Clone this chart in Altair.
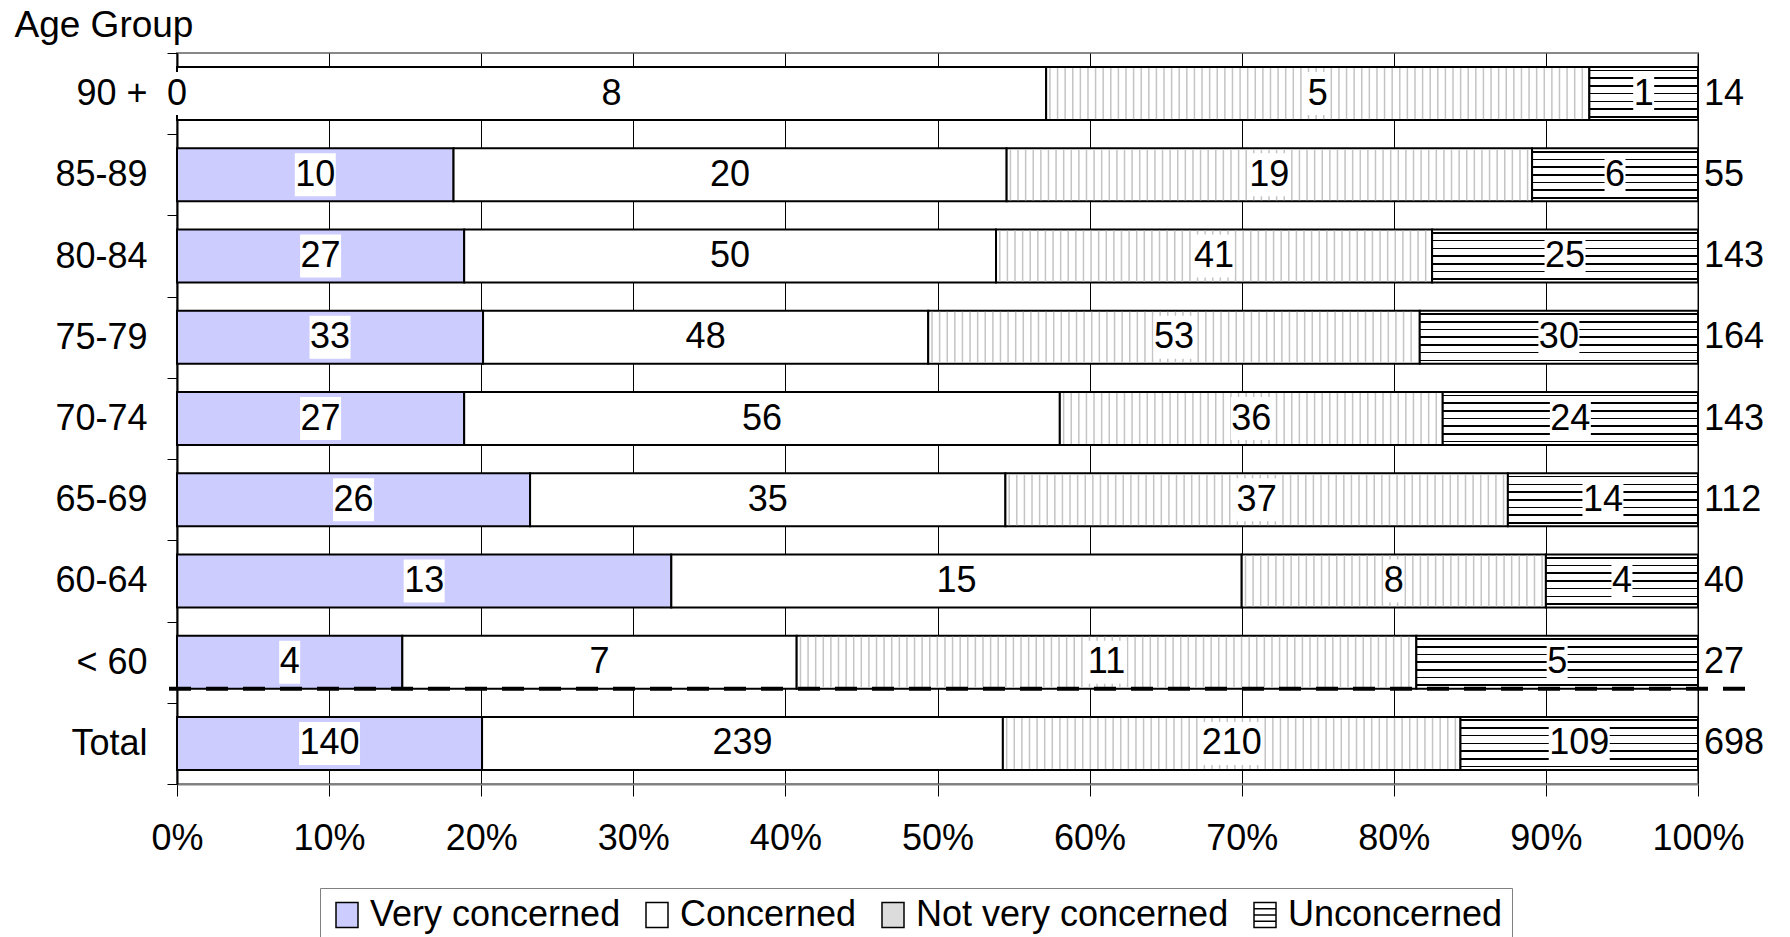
import altair as alt
import pandas as pd

# Survey counts by age group (rows top to bottom) and level of concern
groups = ["90 +", "85-89", "80-84", "75-79", "70-74", "65-69", "60-64", "< 60", "Total"]
series = ["Very concerned", "Concerned", "Not very concerned", "Unconcerned"]
very_concerned = [0, 10, 27, 33, 27, 26, 13, 4, 140]
concerned = [8, 20, 50, 48, 56, 35, 15, 7, 239]
not_very_concerned = [5, 19, 41, 53, 36, 37, 8, 11, 210]
unconcerned = [1, 6, 25, 30, 24, 14, 4, 5, 109]

columns = [very_concerned, concerned, not_very_concerned, unconcerned]
rows = []
for gi, g in enumerate(groups):
    for si, s in enumerate(series):
        rows.append({"group": g, "series": s, "order": si, "count": columns[si][gi]})
df = pd.DataFrame(rows)

FONT = "Liberation Sans"
FS = 36
W, H = 1521, 731
BAR_H = 53

# horizontal hatching for the "Unconcerned" segments
stops = [{"offset": 0, "color": "white"}]
for i in range(7):
    c = (3.4 + 7.7 * i) / BAR_H
    h = 0.8 / BAR_H
    stops += [
        {"offset": c - h, "color": "white"},
        {"offset": c - h, "color": "black"},
        {"offset": c + h, "color": "black"},
        {"offset": c + h, "color": "white"},
    ]
stops.append({"offset": 1, "color": "white"})
hatch = {"gradient": "linear", "x1": 0, "y1": 0, "x2": 0, "y2": 1, "stops": stops}

bar_fill = {
    "condition": [
        {"test": "datum.series === 'Very concerned'", "value": "#ccccff"},
        {"test": "datum.series === 'Unconcerned'", "value": hatch},
    ],
    "value": "white",
}

base = (
    alt.Chart(df)
    .transform_joinaggregate(total="sum(count)", groupby=["group"])
    .transform_window(cum="sum(count)", groupby=["group"],
                      sort=[alt.SortField("order")], frame=[None, 0])
    .transform_calculate(x1="(datum.cum - datum.count) / datum.total",
                         x2="datum.cum / datum.total")
    .transform_calculate(mid="(datum.x1 + datum.x2) / 2",
                         nd="length(toString(datum.count))")
)

xscale = alt.Scale(domain=[0, 1], nice=False, zero=False)
yscale = alt.Scale(paddingInner=0, paddingOuter=0)

x_axis = alt.Axis(
    title=None, format=".0%", values=[i / 10 for i in range(11)],
    labelFont=FONT, labelFontSize=FS, labelColor="black", labelPadding=25,
    labelFlush=False, labelOverlap=False,
    grid=True, gridColor="black", gridWidth=1,
    tickSize=12, tickColor="black", tickWidth=1,
    domainColor="#808080", domainWidth=2,
)
y_axis = alt.Axis(
    title="Age Group", titleAngle=0, titleAlign="left", titleBaseline="alphabetic",
    titleX=-163, titleY=-17, titleFont=FONT, titleFontSize=37,
    titleFontWeight="normal", titleColor="black",
    labelFont=FONT, labelFontSize=FS, labelColor="black", labelPadding=20,
    tickBand="extent", tickSize=10, tickColor="black", tickWidth=1,
    domainColor="black", domainWidth=2, grid=False,
)


def X(field):
    return alt.X(field, scale=xscale, axis=x_axis)


Y = alt.Y("group:N", sort=groups, scale=yscale, axis=y_axis)

bars = base.mark_bar(size=BAR_H, stroke="black", strokeWidth=2).encode(
    x=X("x1:Q"), x2="x2:Q", y=Y, fill=bar_fill,
)

# vertical hatching for the "Not very concerned" segments
stripes = (
    base.transform_filter("datum.series === 'Not very concerned'")
    .transform_calculate(stripe="sequence(datum.x1 + 0.0025, datum.x2 - 0.001, 0.005)")
    .transform_flatten(["stripe"])
    .mark_tick(orient="vertical", size=BAR_H - 2, thickness=1.5,
               color="#c4c4c4", opacity=1)
    .encode(x=X("stripe:Q"), y=Y)
)

# white boxes behind the segment labels, sized by the number of digits
box_paths = {
    1: "M-0.344,-0.705H0.344V0.705H-0.344Z",
    2: "M-0.672,-0.705H0.672V0.705H-0.672Z",
    3: "M-1,-0.705H1V0.705H-1Z",
}
label_boxes = [
    base.transform_filter(f"datum.nd === {n}")
    .mark_point(filled=True, fill="white", opacity=1, strokeWidth=0,
                size=3721, shape=path)
    .encode(x=X("mid:Q"), y=Y)
    for n, path in box_paths.items()
]

labels = base.mark_text(font=FONT, fontSize=FS, baseline="middle", color="black").encode(
    x=X("mid:Q"), y=Y, text="count:Q"
)

totals = (
    base.transform_filter("datum.series === 'Unconcerned'")
    .mark_text(font=FONT, fontSize=FS, baseline="middle", align="left", dx=6, color="black")
    .encode(x=X("x2:Q"), y=Y, text="total:Q")
)

divider = (
    base.transform_filter("datum.group === '< 60' && datum.series === 'Very concerned'")
    .mark_rule(color="black", strokeWidth=4, strokeDash=[22, 15], yOffset=BAR_H / 2)
    .encode(y=Y, x=alt.value(-8), x2=alt.value(1574))
)

legend = alt.Legend(
    title=None, orient="none", legendX=143, legendY=835, direction="horizontal",
    labelFont=FONT, labelFontSize=FS, labelColor="black", labelLimit=0,
    labelOffset=5, columnPadding=18, padding=9,
    symbolSize=625, symbolStrokeWidth=1.5, symbolOpacity=1,
    strokeColor="#808080",
)
legend_paths = [
    "M-0.88,-1H0.88V1H-0.88Z",
    "M-0.88,-1H0.88V1H-0.88Z",
    "M-0.88,-1H0.88V1H-0.88Z",
    "M-0.88,-1H0.88V1H-0.88Z M-0.88,-0.5H0.88 M-0.88,0H0.88 M-0.88,0.5H0.88",
]
legend_layer = (
    base.transform_filter("datum.group === 'Total'")
    .mark_point(filled=True, opacity=0, strokeWidth=1.5)
    .encode(
        x=X("mid:Q"),
        y=Y,
        fill=alt.Fill("series:N", scale=alt.Scale(domain=series,
                      range=["#ccccff", "#ffffff", "#dcdcdc", "#ffffff"]), legend=legend),
        shape=alt.Shape("series:N", scale=alt.Scale(domain=series, range=legend_paths),
                        legend=legend),
        stroke=alt.Stroke("series:N", scale=alt.Scale(domain=series, range=["black"] * 4),
                          legend=legend),
    )
)

chart = (
    alt.layer(bars, stripes, *label_boxes, labels, totals, divider, legend_layer)
    .properties(
        width=W, height=H,
        autosize=alt.AutoSizeParams(type="none"),
        padding={"left": 177, "top": 53, "right": 92, "bottom": 153},
        background="white",
    )
    .configure_view(stroke="#888888", strokeWidth=2)
)

chart.save("out.html", embed_options={"renderer": "svg", "actions": False})
